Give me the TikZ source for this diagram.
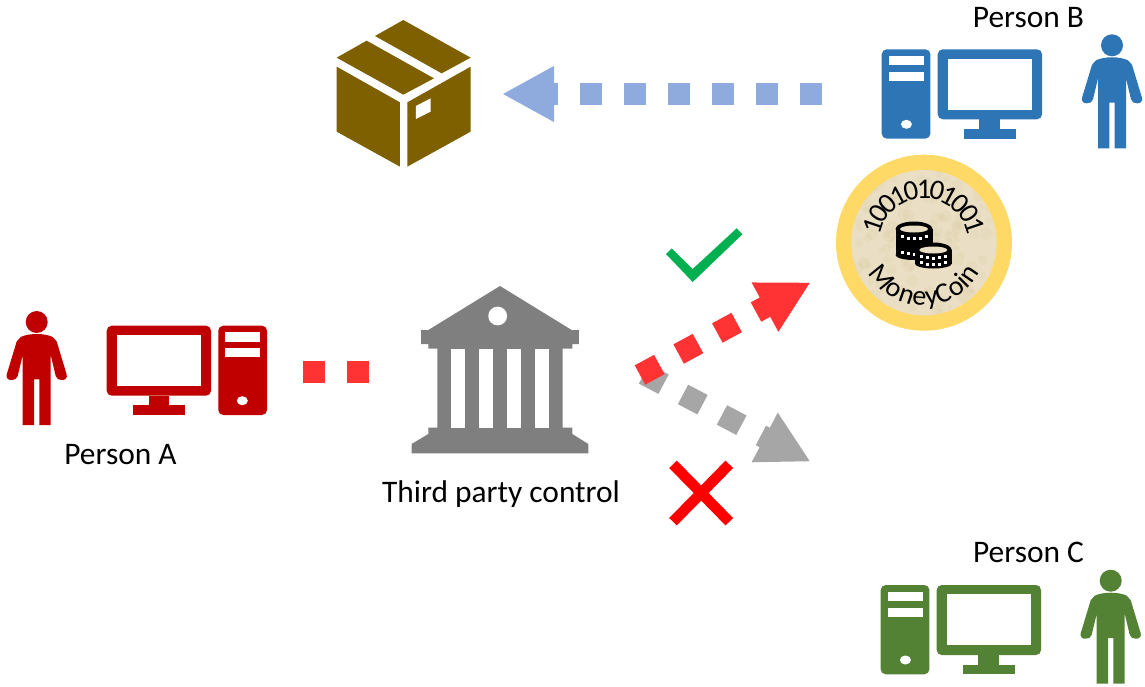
\documentclass[tikz,border=0pt]{standalone}
\usepackage{fontspec}
\setmainfont{Carlito}
\usetikzlibrary{arrows.meta,decorations.text}
\definecolor{cred}{HTML}{C00000}
\definecolor{cblue}{HTML}{2E75B6}
\definecolor{cgreen}{HTML}{548235}
\definecolor{cbrown}{HTML}{7F6000}
\definecolor{cgray}{HTML}{7F7F7F}
\definecolor{ared}{HTML}{FF3333}
\definecolor{agray}{HTML}{A6A6A6}
\definecolor{ablue}{HTML}{8FAADC}
\definecolor{cgold}{HTML}{FFD966}
\definecolor{ccoin}{HTML}{EADFC4}
\definecolor{cmott}{HTML}{D9C79C}
\definecolor{ccheck}{HTML}{00B050}
\newcommand{\coinstack}[5]{% x, top ellipse y, bottom y, row1 y, row2 y
  \fill[black] (#1-18.5,#2) rectangle (#1+18.5,#3-5);
  \fill[black] (#1,#3-5) ellipse (18.5pt and 5pt);
  \fill[black] (#1,#2) ellipse (18.5pt and 7.5pt);
  \fill[ccoin] (#1,#2) ellipse (14pt and 3.5pt);
  \foreach \dx/\dy in {-12/-1.6,-6/-0.2,0/0.4,6/-0.2,12/-1.6}{
    \fill[white] (#1+\dx-1.5,#4+\dy-1.5) rectangle +(3,3);
    \fill[white] (#1+\dx-1.5,#5+\dy-1.5) rectangle +(3,3);
  }
}
\tikzset{
  lbl/.style={font=\fontsize{31.4pt}{35pt}\selectfont,text=black,inner sep=0pt},
  blockarrow/.style={line width=22pt,dash pattern=on 22pt off 22pt,
    -{Triangle[length=52pt,width=52pt]}},
  blockline/.style={line width=22pt,dash pattern=on 22pt off 22pt},
  person/.pic={
    \fill[pic actions] (0,0) circle (11pt);
    \fill[pic actions] (0,12) .. controls (-6,12) and (-12,13) .. (-16,15)
      -- (-20,19.5) -- (-30,52.5) .. controls (-31,56) and (-28,58.5) .. (-25,58)
      .. controls (-22,58) and (-20,57) .. (-19,54) -- (-14,33) -- (-14,103) -- (-2.7,103) -- (-2.7,57.3)
      -- (2.7,57.3) -- (2.7,103) -- (14,103) -- (14,33) -- (19,54)
      .. controls (20,57) and (22,58) .. (25,58)
      .. controls (28,58.5) and (31,56) .. (30,52.5)
      -- (20,19.5) -- (16,15) .. controls (12,13) and (6,12) .. (0,12) -- cycle;
  },
  computer/.pic={
    \fill[pic actions,rounded corners=5pt] (0,0) rectangle (104.3,70);
    \fill[white] (10,9.3) rectangle (94.3,60.3);
    \fill[pic actions] (42,70) rectangle (62.6,80);
    \fill[pic actions] (26,79.7) rectangle (78.3,89.3);
    \fill[pic actions,rounded corners=5pt] (111.6,0) rectangle (160.3,89.3);
    \fill[white] (118.3,6.6) rectangle (153.3,16);
    \fill[white] (118.3,22.6) rectangle (153.3,31.6);
    \fill[white] (135.6,75) ellipse (5.5pt and 4.5pt);
  }
}
\begin{document}
\begin{tikzpicture}[x=1pt,y=-1pt]
\useasboundingbox (0,0) rectangle (1145,686);
% person A
\pic[fill=cred] (pa) at (36.7,322) {person};
\pic[fill=cred] (ca) at (106.7,325.7) {computer};
\node[lbl] (la) at (120.5,454.5) {Person A};
% person B
\pic[fill=cblue] (pb) at (1112,45.3) {person};
\pic[fill=cblue,xscale=-1] (cb) at (1042,49.3) {computer};
\node[lbl] (lb) at (1028.5,17.5) {Person B};
% person C
\pic[fill=cgreen] (pc) at (1110.7,580.7) {person};
\pic[fill=cgreen,xscale=-1] (cc) at (1041,585) {computer};
\node[lbl] (lc) at (1028.5,552.5) {Person C};
% box
\begin{scope}[shift={(320,10)},x=0.3333pt,y=-0.3333pt,fill=cbrown]
\fill (50,143) -- (140,92) -- (342,205) -- (250,254) -- cycle;
\fill (165,78) -- (250,30) -- (452,143) -- (365,190) -- cycle;
\fill (50,170) -- (240,277) -- (240,470) -- (50,365) -- cycle;
\fill (262,277) -- (452,170) -- (452,365) -- (262,470) -- cycle;
\fill[white] (288,288) -- (332,265) -- (332,305) -- (288,327) -- cycle;
\end{scope}
% bank
\begin{scope}[shift={(400,280)},x=0.3333pt,y=-0.3333pt]
\fill[cgray] (300,18) -- (515,150) -- (537,150) -- (537,192) -- (517,192) -- (517,206) -- (488,206)
  -- (488,443) -- (517,443) -- (517,462) -- (565,492) -- (565,520) -- (35,520) -- (35,492)
  -- (85,462) -- (85,443) -- (112,443) -- (112,206) -- (85,206) -- (85,192) -- (63,192)
  -- (63,150) -- (85,150) -- cycle;
\foreach \hx/\hw in {154/42,238/42,322/42,406/41}
  \fill[white] (\hx,207) rectangle +(\hw,236);
\fill[white] (293,108) circle (9.4pt);
\end{scope}
\node[lbl] (lt) at (501,494) {Third party control};
% coin
\begin{scope}[shift={(924,242.7)},x=1pt,y=1pt]
\fill[cgold] (0,0) circle (88pt);
\fill[ccoin] (0,0) circle (72.7pt);
\begin{scope}
\clip (0,0) circle (72.7pt);
\pgfmathsetseed{7}
\foreach \i in {1,...,140}{
  \pgfmathsetmacro{\px}{70*rand}
  \pgfmathsetmacro{\py}{70*rand}
  \pgfmathsetmacro{\pr}{2+5*rnd}
  \fill[cmott,opacity=0.16] (\px,\py) circle (\pr pt);
}
\end{scope}
\path[decorate,decoration={text along path,text align={center},raise=-13.6pt,
  text={|\fontsize{28.5pt}{30pt}\selectfont|10010101001}}]
  (178:58pt) arc[start angle=178,end angle=2,radius=58pt];
\path[decorate,decoration={text along path,text align={center},raise=-3pt,
  text={|\fontsize{28pt}{30pt}\selectfont|MoneyCoin}}]
  (185:60pt) arc[start angle=185,end angle=355,radius=60pt];
\end{scope}
\coinstack{914}{229}{260}{238.3}{254}
\coinstack{933.3}{250}{268.5}{257.7}{264.5}
% connectors
\coordinate (b1) at (822,94);
\coordinate (b2) at (502,94);
\coordinate (a1) at (303,372);
\coordinate (a2) at (369,372);
\coordinate (r1) at (640,375);
\coordinate (r2) at (810.7,282.3);
\coordinate (g1) at (644.1,373.9);
\coordinate (g2) at (810.7,461.7);
\draw[blockarrow,ablue] (b1) -- (b2);
\draw[blockline,ared] (a1) -- (a2);
\draw[blockarrow,agray] (g1) -- (g2);
\draw[blockarrow,ared] (r1) -- (r2);
% check
\begin{scope}[shift={(620,220)},x=0.3333pt,y=-0.3333pt]
\fill[ccheck] (155,85) -- (218,147) -- (350,25) -- (367,43) -- (218,186) -- (138,102) -- cycle;
\end{scope}
% cross
\coordinate (x1) at (673,464.3);
\coordinate (x2) at (729.3,521.7);
\coordinate (x3) at (729.3,464.3);
\coordinate (x4) at (673,521.7);
\draw[red,line width=10.6pt] (x1) -- (x2);
\draw[red,line width=10.6pt] (x3) -- (x4);
\end{tikzpicture}
\end{document}
